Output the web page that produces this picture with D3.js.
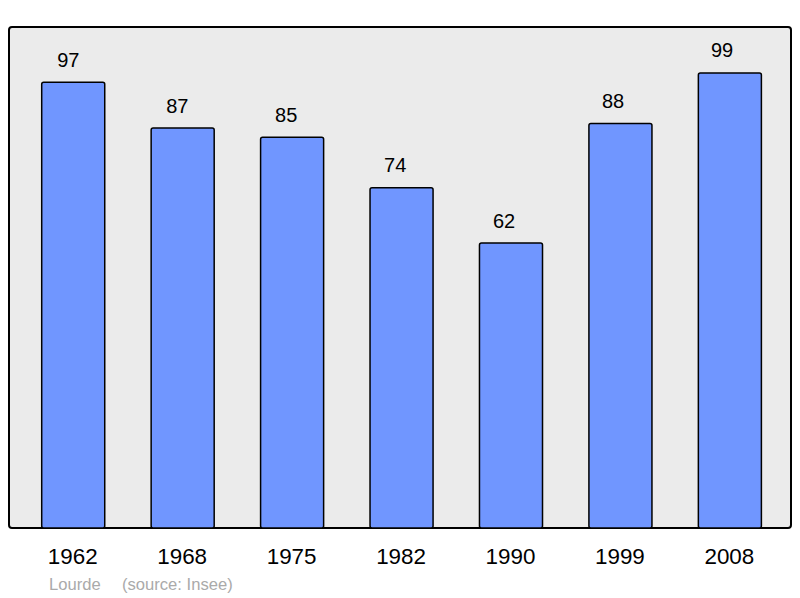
<!DOCTYPE html>
<html>
<head>
<meta charset="utf-8">
<script src="https://cdn.jsdelivr.net/npm/d3@7"></script>
<style>
  body { margin: 0; background: #fff; }
  text { font-family: "Liberation Sans", Arial, sans-serif; }
</style>
</head>
<body>
<svg id="chart" width="800" height="598"></svg>
<script>
const years = ['1962', '1968', '1975', '1982', '1990', '1999', '2008'];
const population = [97, 87, 85, 74, 62, 88, 99];
const yMax = 109;

const width = 800, height = 598;
const frame = { left: 9, right: 791, top: 27, bottom: 528 };

const svg = d3.select('#chart');

svg.append('rect')
    .attr('x', frame.left)
    .attr('y', frame.top)
    .attr('width', frame.right - frame.left)
    .attr('height', frame.bottom - frame.top)
    .attr('rx', 3)
    .attr('fill', '#ebebeb')
    .attr('stroke', '#000')
    .attr('stroke-width', 2);

const x = d3.scaleBand()
    .domain(years)
    .range([18.5, 784.6])
    .paddingInner(0.424)
    .paddingOuter(0.212);

// value labels sit a little left of the bar centres
const xLabel = d3.scalePoint()
    .domain(years)
    .range([68.3, 722]);

const y = d3.scaleLinear()
    .domain([0, yMax])
    .range([frame.bottom, frame.top]);

svg.selectAll('.bar')
    .data(population)
    .join('rect')
    .classed('bar', true)
    .attr('x', (d, i) => x(years[i]))
    .attr('y', d => y(d))
    .attr('width', x.bandwidth())
    .attr('height', d => y(0) - y(d))
    .attr('rx', 2)
    .attr('fill', '#7096ff')
    .attr('stroke', '#000')
    .attr('stroke-width', 1.5);

svg.selectAll('.bar-label')
    .data(population)
    .join('text')
    .classed('bar-label', true)
    .attr('x', (d, i) => xLabel(years[i]))
    .attr('y', d => y(d) - 15.5)
    .attr('text-anchor', 'middle')
    .style('font-size', '20px')
    .attr('fill', '#000')
    .text(d => d);

// year labels along the bottom
svg.selectAll('.year')
    .data(years)
    .join('text')
    .classed('year', true)
    .attr('x', d => x(d) + x.bandwidth() / 2 - 0.5)
    .attr('y', 564)
    .attr('text-anchor', 'middle')
    .style('font-size', '22.4px')
    .attr('fill', '#000')
    .text(d => d);

svg.append('text')
    .attr('x', 49)
    .attr('y', 590)
    .style('font-size', '16.6px')
    .attr('fill', '#aaaaaa')
    .text('Lourde');

svg.append('text')
    .attr('x', 122)
    .attr('y', 590)
    .style('font-size', '16.6px')
    .attr('fill', '#aaaaaa')
    .text('(source: Insee)');
</script>
</body>
</html>
